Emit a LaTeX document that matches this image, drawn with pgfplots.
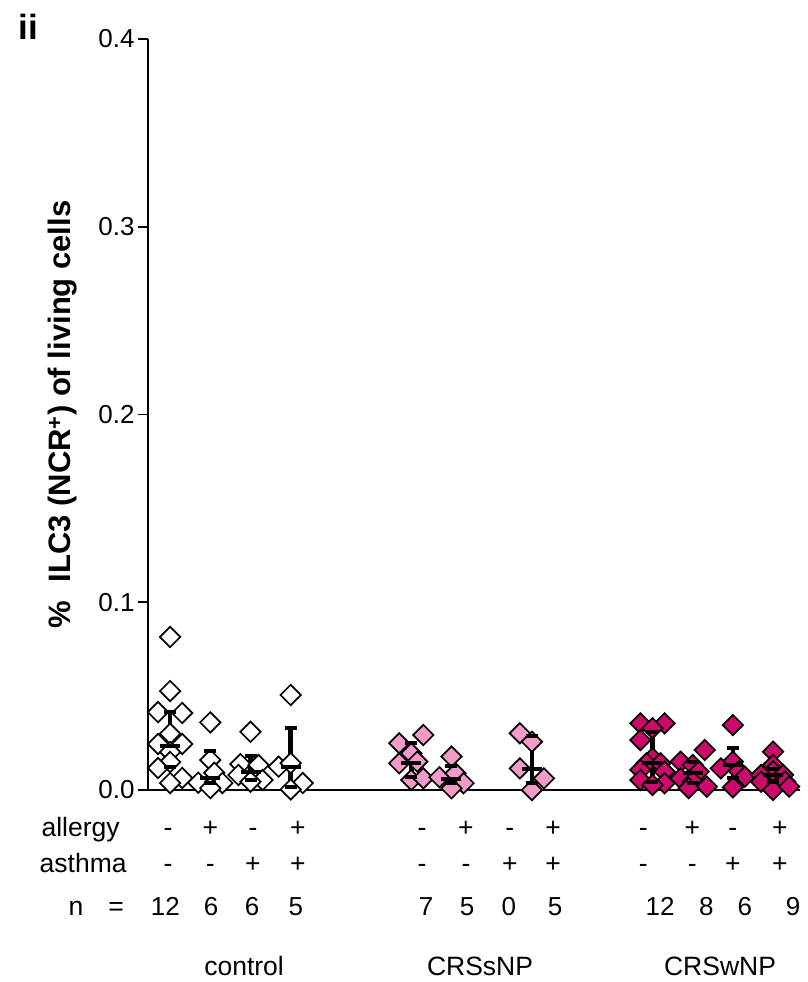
\documentclass[border=0pt]{standalone}
\usepackage{pgfplots}
\pgfplotsset{compat=1.18}
\usepackage{fontspec}
\setmainfont{Liberation Sans}
\definecolor{lpink}{HTML}{F49AC8}
\definecolor{mag}{HTML}{CC0A6B}
\newcommand{\fs}[1]{\fontsize{#1}{#1}\selectfont}
\newcommand{\lab}[3]{\node[anchor=base, font=\fs{26.5}] at (axis cs:#1,#2) {#3};}
\newcommand{\nlab}[2]{\node[anchor=base, font=\fs{26}] at (axis cs:#1,-0.06658) {#2};}
\begin{document}
\begin{tikzpicture}
\path[use as bounding box] (-148pt,-192pt) rectangle (659pt,790pt);
\begin{axis}[
  at={(0,0)}, anchor=south west, scale only axis,
  width=652pt, height=751pt,
  xmin=-0.55, xmax=15.67, ymin=0, ymax=0.4,
  axis lines*=left,
  axis line style={line width=1.8pt, black},
  xtick=\empty, ytick={0,0.1,0.2,0.3,0.4},
  tick align=outside, major tick length=10pt,
  tick style={line width=1.8pt, black},
  yticklabel style={font=\fs{26}, /pgf/number format/.cd, fixed, fixed zerofill, precision=1, assume math mode=true},
  clip=false,
]
% control points
\addplot[only marks, mark=square*, mark size=7.2pt, mark options={rotate=45, draw=black, fill=white, line width=1.7pt}] coordinates {
(0,0.0815)(0,0.0527)(-0.3,0.0415)(0.3,0.041)(0,0.030)(-0.3,0.0245)(0.3,0.0245)(0,0.0202)(0,0.0149)(-0.3,0.0117)(0.3,0.0064)(0,0.0037)
(1,0.036)(1,0.016)(1.1,0.0092)(0.7,0.0039)(1.3,0.0037)(1,0.001)
(2,0.031)(1.75,0.0138)(2.2,0.0133)(1.7,0.008)(2.3,0.0053)(2,0.0044)
(3,0.0506)(2.7,0.0124)(3,0.0143)(3.3,0.0037)(3,0.0003)
};
% CRSsNP points
\addplot[only marks, mark=square*, mark size=7.2pt, mark options={rotate=45, draw=black, fill=lpink, line width=1.7pt}] coordinates {
(5.7,0.0249)(6.3,0.0293)(6,0.0195)(5.7,0.0142)(6.15,0.0151)(6,0.0053)(6.3,0.0062)
(7,0.0178)(6.7,0.0068)(7.1,0.0089)(7.3,0.0036)(7,0.0009)
(8.7,0.0302)(9,0.0257)(8.7,0.0115)(9.3,0.0062)(9,0.0)
};
% CRSwNP points
\addplot[only marks, mark=square*, mark size=7.2pt, mark options={rotate=45, draw=black, fill=mag, line width=1.7pt}] coordinates {
(11.7,0.0355)(12.3,0.0355)(12,0.0329)(11.7,0.0266)(12,0.0169)(11.85,0.0142)(12.2,0.0142)(11.7,0.0107)(12.3,0.0098)(11.7,0.0053)(12.3,0.0036)(12,0.0027)
(13.3,0.0213)(12.7,0.0151)(13,0.0133)(13.15,0.0098)(12.7,0.0062)(13,0.0044)(13.35,0.0018)(12.9,0.001)
(14,0.0346)(14,0.0151)(13.7,0.0115)(14.15,0.010)(14.3,0.0071)(14,0.0014)
(15,0.0204)(15,0.0133)(15,0.01)(14.7,0.008)(15.25,0.008)(14.7,0.0044)(15.3,0.0044)(15,0.0)(15.4,0.0018)
};
% whiskers (low to high)
\addplot[black, line width=4.5pt, unbounded coords=jump] coordinates {
(0,0.0124)(0,0.0417)(0,nan)
(1,0.0037)(1,0.0208)(1,nan)
(2,0.0053)(2,0.0183)(2,nan)
(3,0.0018)(3,0.0329)(3,nan)
(6,0.0068)(6,0.0249)(6,nan)
(7,0.0039)(7,0.0128)(7,nan)
(9,0.0039)(9,0.0288)(9,nan)
(12,0.0044)(12,0.0310)(12,nan)
(13,0.0036)(13,0.0151)(13,nan)
(14,0.0062)(14,0.0222)(14,nan)
(15,0.0044)(15,0.0110)
};
% caps
\addplot[only marks, black, mark=-, mark size=6pt, mark options={line width=3.8pt, black}] coordinates {
(0,0.0124)(0,0.0417)(1,0.0037)(1,0.0208)(2,0.0053)(2,0.0183)(3,0.0018)(3,0.0329)
(6,0.0068)(6,0.0249)(7,0.0039)(7,0.0128)(9,0.0039)(9,0.0288)
(12,0.0044)(12,0.0310)(13,0.0036)(13,0.0151)(14,0.0062)(14,0.0222)(15,0.0044)(15,0.0110)
};
% central values
\addplot[only marks, black, mark=-, mark size=10pt, mark options={line width=3.8pt, black}] coordinates {
(0,0.0234)(1,0.0064)(2,0.0098)(3,0.0124)(6,0.0142)(7,0.0057)(9,0.0110)
(12,0.0142)(13,0.0092)(14,0.0133)(15,0.0080)
};
% y label and panel letter
\node[rotate=90, font=\bfseries\fs{31}] at ([xshift=-85pt]rel axis cs:0,0.5) {\%\hspace{0.6em}ILC3 (NCR\textsuperscript{+}) of living cells};
\node[anchor=base, font=\bfseries\fs{35}] at (axis cs:-3.53,0.3995) {ii};
% row labels
\node[anchor=base east, font=\fs{26.5}] at (axis cs:-1.169,-0.02503) {allergy};
\node[anchor=base east, font=\fs{26.5}] at (axis cs:-0.995,-0.04368) {asthma};
\lab{-2.34}{-0.06658}{n}
\lab{-1.343}{-0.06658}{=}
% allergy row
\lab{-0.05}{-0.02503}{-}\lab{1.0}{-0.02503}{+}\lab{2.06}{-0.02503}{-}\lab{3.18}{-0.02503}{+}
\lab{6.27}{-0.02503}{-}\lab{7.36}{-0.02503}{+}\lab{8.45}{-0.02503}{-}\lab{9.53}{-0.02503}{+}
\lab{11.77}{-0.02503}{-}\lab{12.99}{-0.02503}{+}\lab{14.0}{-0.02503}{-}\lab{15.17}{-0.02503}{+}
% asthma row
\lab{-0.05}{-0.04368}{-}\lab{1.0}{-0.04368}{-}\lab{2.06}{-0.04368}{+}\lab{3.18}{-0.04368}{+}
\lab{6.27}{-0.04368}{-}\lab{7.36}{-0.04368}{-}\lab{8.45}{-0.04368}{+}\lab{9.53}{-0.04368}{+}
\lab{11.77}{-0.04368}{-}\lab{12.99}{-0.04368}{-}\lab{14.0}{-0.04368}{+}\lab{15.17}{-0.04368}{+}
% n row
\nlab{-0.12}{12}\nlab{1.02}{6}\nlab{2.04}{6}\nlab{3.13}{5}
\nlab{6.37}{7}\nlab{7.39}{5}\nlab{8.43}{0}\nlab{9.58}{5}
\nlab{12.19}{12}\nlab{13.34}{8}\nlab{14.3}{6}\nlab{15.5}{9}
% group names
\lab{1.84}{-0.09854}{control}
\lab{7.71}{-0.09854}{CRSsNP}
\lab{13.68}{-0.09854}{CRSwNP}
\end{axis}
\end{tikzpicture}
\end{document}
